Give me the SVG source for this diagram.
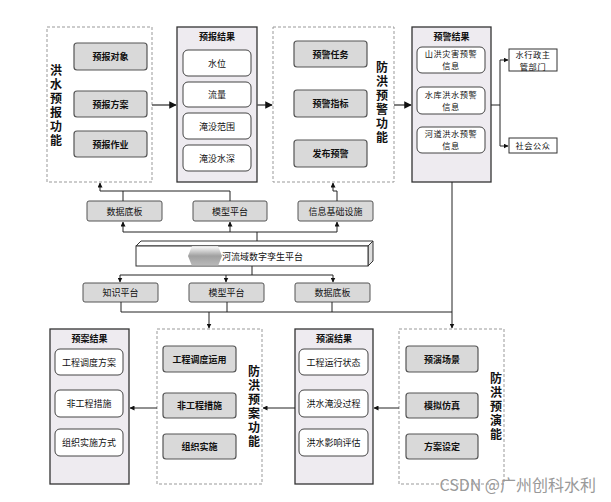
<svg xmlns="http://www.w3.org/2000/svg" width="611" height="502" viewBox="0 0 611 502">
<defs>
<style>
text{font-family:"Noto Sans CJK SC","Liberation Sans",sans-serif;fill:#111}
.dash{fill:#fff;stroke:#999;stroke-width:1;stroke-dasharray:3,2}
.res{fill:#eeebf0;stroke:#333;stroke-width:1.3}
.gb{fill:#d9d9d9;stroke:#555;stroke-width:1.2}
.wb{fill:#fff;stroke:#444;stroke-width:1}
.pb{fill:#d9d9d9;stroke:#555;stroke-width:1}
.ob{fill:#fff;stroke:#333;stroke-width:1}
.gt{font-size:9px;font-weight:bold;text-anchor:middle}
.wt{font-size:9px;text-anchor:middle}
.w2{font-size:8.2px;text-anchor:middle;letter-spacing:0.6px}
.tt{font-size:9px;font-weight:bold;text-anchor:middle}
.vl{font-size:12px;font-weight:bold;writing-mode:vertical-rl;text-orientation:upright;letter-spacing:2px}
.ln{fill:none;stroke:#222;stroke-width:1}
.lg{fill:none;stroke:#555;stroke-width:1.5}
</style>
<marker id="ah" viewBox="0 0 10 10" refX="9" refY="5" markerWidth="5" markerHeight="5" orient="auto"><path d="M0,0L10,5L0,10z" fill="#111"/></marker>
<linearGradient id="blur" x1="0" y1="0" x2="0" y2="1"><stop offset="0" stop-color="#fff"/><stop offset="0.5" stop-color="#888"/><stop offset="1" stop-color="#aaa"/></linearGradient>
</defs>
<rect width="611" height="502" fill="#fff"/>

<g id="forecast">
<rect class="dash" x="47" y="27" width="105" height="155"/>
<text class="vl" x="56" y="64">洪水预报功能</text>
<rect class="gb" x="74" y="43" width="73" height="27" rx="3"/><text class="gt" x="110.5" y="60">预报对象</text>
<rect class="gb" x="74" y="91" width="73" height="26" rx="3"/><text class="gt" x="110.5" y="107.5">预报方案</text>
<rect class="gb" x="74" y="131" width="73" height="26" rx="3"/><text class="gt" x="110.5" y="147.5">预报作业</text>
</g>

<g id="forecast-result">
<rect class="res" x="177" y="27" width="80" height="155"/>
<text class="tt" x="217" y="40">预报结果</text>
<rect class="wb" x="183" y="50" width="68" height="26" rx="5"/><text class="wt" x="217" y="66.5">水位</text>
<rect class="wb" x="183" y="82" width="68" height="25" rx="5"/><text class="wt" x="217" y="97.5">流量</text>
<rect class="wb" x="183" y="113" width="68" height="26" rx="5"/><text class="wt" x="217" y="129.5">淹没范围</text>
<rect class="wb" x="183" y="145" width="68" height="26" rx="5"/><text class="wt" x="217" y="161.5">淹没水深</text>
</g>

<g id="warning">
<rect class="dash" x="273" y="27" width="121" height="155"/>
<rect class="gb" x="294" y="41" width="73" height="26" rx="3"/><text class="gt" x="330.5" y="57.5">预警任务</text>
<rect class="gb" x="294" y="90" width="73" height="27" rx="3"/><text class="gt" x="330.5" y="107">预警指标</text>
<rect class="gb" x="294" y="140" width="73" height="27" rx="3"/><text class="gt" x="330.5" y="157">发布预警</text>
<text class="vl" x="382" y="61">防洪预警功能</text>
</g>

<g id="warning-result">
<rect class="res" x="412" y="27" width="79" height="155"/>
<text class="tt" x="451.5" y="40">预警结果</text>
<rect class="wb" x="417" y="47" width="68" height="26" rx="5"/><text class="w2" x="451" y="57">山洪灾害预警</text><text class="w2" x="451" y="69">信息</text>
<rect class="wb" x="417" y="87" width="68" height="27" rx="5"/><text class="w2" x="451" y="97.5">水库洪水预警</text><text class="w2" x="451" y="109.5">信息</text>
<rect class="wb" x="417" y="127" width="68" height="26" rx="5"/><text class="w2" x="451" y="137">河道洪水预警</text><text class="w2" x="451" y="149">信息</text>
</g>

<g id="gov">
<rect class="ob" x="509" y="49" width="48" height="22"/>
<text class="w2" x="533" y="57.5">水行政主</text><text class="w2" x="533" y="69.5">管部门</text>
</g>
<g id="public">
<rect class="ob" x="509" y="138" width="48" height="15"/>
<text class="w2" x="533" y="148.5">社会公众</text>
</g>

<g id="top-data"><rect class="pb" x="87" y="201" width="75" height="20" rx="2"/><text class="wt" x="124.5" y="214.5">数据底板</text></g>
<g id="top-model"><rect class="pb" x="193" y="201" width="74" height="20" rx="2"/><text class="wt" x="230" y="214.5">模型平台</text></g>
<g id="top-infra"><rect class="pb" x="298" y="201" width="75" height="20" rx="2"/><text class="wt" x="335.5" y="214.5">信息基础设施</text></g>

<g id="twin">
<path d="M136,246 L141,241 L373,241 L368,246 Z" fill="#fff" stroke="#333" stroke-width="1"/>
<path d="M368,246 L373,241 L373,261 L368,266 Z" fill="#ddd" stroke="#333" stroke-width="1"/>
<rect x="136" y="246" width="232" height="20" fill="#fff" stroke="#333" stroke-width="1"/>
<path d="M192,246 L218,246 L222,256 L218,266 L192,266 L188,256 Z" fill="url(#blur)" opacity="0.8"/>
<text class="wt" x="222" y="259.5" style="text-anchor:start">河流域数字孪生平台</text>
</g>

<g id="bot-know"><rect class="pb" x="83" y="283" width="75" height="19" rx="2"/><text class="wt" x="120.5" y="296">知识平台</text></g>
<g id="bot-model"><rect class="pb" x="189" y="283" width="75" height="19" rx="2"/><text class="wt" x="226.5" y="296">模型平台</text></g>
<g id="bot-data"><rect class="pb" x="295" y="283" width="75" height="19" rx="2"/><text class="wt" x="332.5" y="296">数据底板</text></g>

<g id="plan-result">
<rect class="res" x="50" y="329" width="79" height="155"/>
<text class="tt" x="89.5" y="342">预案结果</text>
<rect class="wb" x="55" y="349" width="68" height="26" rx="5"/><text class="wt" x="89" y="365.5">工程调度方案</text>
<rect class="wb" x="55" y="390" width="68" height="27" rx="5"/><text class="wt" x="89" y="407">非工程措施</text>
<rect class="wb" x="55" y="429" width="68" height="27" rx="5"/><text class="wt" x="89" y="446">组织实施方式</text>
</g>

<g id="plan">
<rect class="dash" x="157" y="329" width="105" height="155"/>
<rect class="gb" x="163" y="346" width="73" height="26" rx="3"/><text class="gt" x="199.5" y="362.5">工程调度运用</text>
<rect class="gb" x="163" y="393" width="73" height="25" rx="3"/><text class="gt" x="199.5" y="409">非工程措施</text>
<rect class="gb" x="163" y="434" width="73" height="25" rx="3"/><text class="gt" x="199.5" y="450">组织实施</text>
<text class="vl" x="254" y="365">防洪预案功能</text>
</g>

<g id="rehearsal-result">
<rect class="res" x="295" y="329" width="78" height="155"/>
<text class="tt" x="334" y="342">预演结果</text>
<rect class="wb" x="299" y="349" width="69" height="26" rx="5"/><text class="wt" x="333.5" y="365.5">工程运行状态</text>
<rect class="wb" x="299" y="390" width="69" height="27" rx="5"/><text class="wt" x="333.5" y="407">洪水淹没过程</text>
<rect class="wb" x="299" y="429" width="69" height="27" rx="5"/><text class="wt" x="333.5" y="446">洪水影响评估</text>
</g>

<g id="rehearsal">
<rect class="dash" x="399" y="329" width="105" height="155"/>
<rect class="gb" x="406" y="346" width="72" height="26" rx="3"/><text class="gt" x="442" y="362.5">预演场景</text>
<rect class="gb" x="406" y="393" width="72" height="25" rx="3"/><text class="gt" x="442" y="409">模拟仿真</text>
<rect class="gb" x="406" y="434" width="72" height="25" rx="3"/><text class="gt" x="442" y="450">方案设定</text>
<text class="vl" x="496" y="372">防洪预演能</text>
</g>

<g id="connectors">
<path class="lg" d="M152,105 H176" marker-end="url(#ah)"/>
<path class="lg" d="M257,105 H272" marker-end="url(#ah)"/>
<path class="lg" d="M394,105 H411" marker-end="url(#ah)"/>
<path class="ln" d="M491,105 H500" stroke-width="1.5"/>
<path class="ln" d="M500,60 V146"/>
<path class="ln" d="M500,60 H508" marker-end="url(#ah)"/>
<path class="ln" d="M500,146 H508" marker-end="url(#ah)"/>
<path class="ln" d="M452,182 V328" marker-end="url(#ah)"/>
<path class="ln" d="M123,201 V191 M230,201 V191 M100,191 H230"/>
<path class="ln" d="M100,191 V183" marker-end="url(#ah)"/>
<path class="ln" d="M337,201 V191 H333 V183" marker-end="url(#ah)"/>
<path class="ln" d="M257,241 V232 M123,232 H337"/>
<path class="ln" d="M123,232 V222" marker-end="url(#ah)"/>
<path class="ln" d="M230,232 V222" marker-end="url(#ah)"/>
<path class="ln" d="M337,232 V222" marker-end="url(#ah)"/>
<path class="ln" d="M252,266 V275 M120,275 H333"/>
<path class="ln" d="M120,275 V282" marker-end="url(#ah)"/>
<path class="ln" d="M226,275 V282" marker-end="url(#ah)"/>
<path class="ln" d="M333,275 V282" marker-end="url(#ah)"/>
<path class="ln" d="M121,302 V312 M227,302 V312 M332,302 V312 M121,312 H452"/>
<path class="ln" d="M209,312 V328" marker-end="url(#ah)"/>
<path class="ln" d="M399,408 H374" marker-end="url(#ah)"/>
<path class="ln" d="M295,408 H263" marker-end="url(#ah)"/>
<path class="ln" d="M157,408 H130" marker-end="url(#ah)"/>
</g>

<text x="596" y="491" text-anchor="end" style="font-size:16px;fill:#999;font-family:'Noto Sans CJK SC','Liberation Sans',sans-serif">CSDN @广州创科水利</text>
</svg>
